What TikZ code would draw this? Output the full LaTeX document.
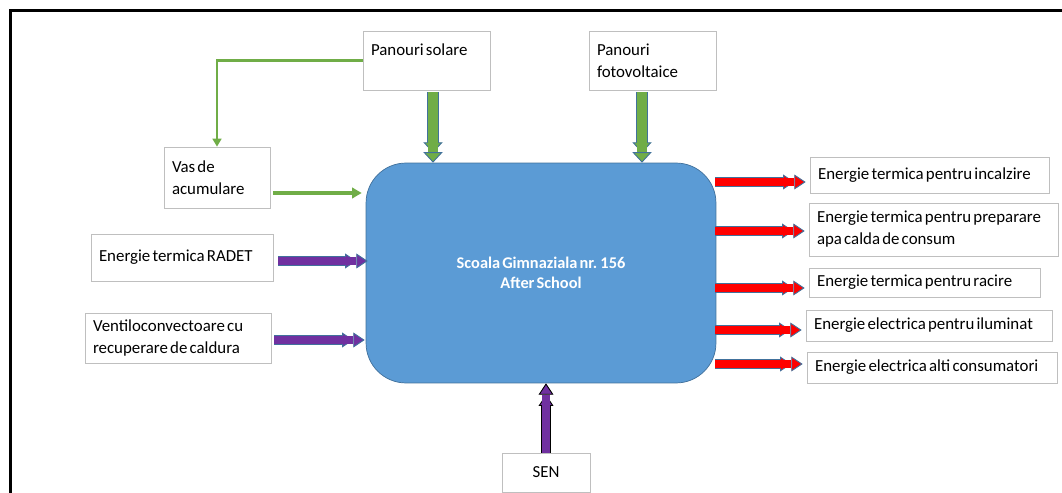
\documentclass[tikz,border=0pt]{standalone}
\usepackage{fontspec}
\setmainfont{Carlito}
\usetikzlibrary{arrows.meta,calc}
\definecolor{mainblue}{HTML}{5B9BD5}
\definecolor{mainedge}{HTML}{41719C}
\definecolor{solargreen}{HTML}{70AD47}
\definecolor{radetpurple}{HTML}{7030A0}
\definecolor{boxgray}{HTML}{BFBFBF}
\definecolor{flowred}{HTML}{FF0000}
\newcommand{\tightspaces}{\spaceskip=0.13em plus 0.1em minus 0.03em\hyphenpenalty=10000}

\begin{document}
\begin{tikzpicture}[x=0.02cm, y=-0.02cm]
        %style
        \tikzset{box/.style = {shape=rectangle, draw=boxgray, fill=white, align=flush left, inner xsep=0.16cm, inner ysep=0pt, font=\fontsize{9.6}{12.5}\selectfont\tightspaces}}
        \tikzset{school/.style = {shape=rectangle, rounded corners=0.8cm, draw=mainedge, fill=mainblue, text=white, align=flush center, minimum width=7cm, minimum height=4.4cm, font=\fontsize{9.3}{11.3}\selectfont\bfseries\tightspaces}}
        \tikzset{greenflow/.style = {preaction={draw=mainedge, line width=6.8pt, shorten >=5.6pt}, draw=solargreen, line width=5.6pt, -{Triangle[length=6pt, width=11pt, fill=solargreen, color=mainedge, line width=0.5pt]}}}
        \tikzset{flow/.style 2 args = {preaction={draw=#2, line width=5.4pt, shorten >=6.4pt}, draw=#1, line width=4.4pt, -{Triangle[length=6.5pt, width=8.5pt, fill=#1, color=#2, line width=0.5pt]}}}
        \tikzset{pipe/.style = {draw=solargreen, line width=1.2pt, -{Triangle[length=4.5pt, width=5pt]}}}
        \tikzset{tank/.style = {draw=solargreen, line width=2pt, -{Triangle[length=5.5pt, width=6pt]}}}

        \useasboundingbox (0,0) rectangle (1062,493);
        \draw[line width=1.7pt] (10.5,493) -- (10.5,10.5) -- (1062,10.5);

        \node[school] (main)  at (541,273)   {Scoala Gimnaziala nr. 156\\After School};
        \node[box, text width=2.22cm, minimum height=1.18cm] (solar) at (426.5,60.5) {Panouri solare\\\mbox{}};
        \node[box, text width=2.22cm, minimum height=1.18cm] (pv)    at (652.5,60.5) {Panouri\\fotovoltaice};
        \node[box, text width=1.8cm, minimum height=1.22cm]  (vas)   at (217,177.5)  {Vas de\\acumulare};
        \node[box, text width=3.32cm, minimum height=0.94cm] (radet) at (182,257.5)  {Energie termica RADET};
        \node[box, text width=3.4cm, minimum height=1cm]     (vent)  at (178,338)    {Ventiloconvectoare cu\\recuperare de caldura};
        \node[box, align=flush center, text width=1.44cm, minimum height=0.78cm] (sen) at (546,472.5) {SEN};
        \node[box, text width=4.46cm, minimum height=0.72cm] (o1) at (929.5,175)   {Energie termica pentru incalzire};
        \node[box, text width=4.66cm, minimum height=1.06cm] (o2) at (933.5,229.5) {Energie termica pentru preparare\\apa calda de consum};
        \node[box, text width=4.3cm, minimum height=0.58cm]  (o3) at (924.5,282.5) {Energie termica pentru racire};
        \node[box, text width=4.6cm, minimum height=0.62cm]  (o4) at (929,325.5)   {Energie electrica pentru iluminat};
        \node[box, text width=4.68cm, minimum height=0.62cm] (o5) at (932,367.5)   {Energie electrica alti consumatori};

        % solar side
        \coordinate (solarout) at ($(solar.south)+(6.5,2)$);
        \coordinate (pvout)    at ($(pv.south)+(-10.5,2)$);
        \draw[greenflow] (solarout) -- (solarout |- main.north);
        \draw[greenflow] (pvout) -- (pvout |- main.north);
        \draw[pipe] (solar.west) -| (vas.north);
        \draw[tank] ($(vas.east)+(3,15.5)$) -- ($(vas.east -| main.west)+(-4,15.5)$);

        % purple inputs
        \draw[flow={radetpurple}{mainedge}] ($(radet.east)+(5,3.5)$) -- ($(radet.east -| main.west)+(2,3.5)$);
        \draw[flow={radetpurple}{mainedge}] ($(vent.east)+(3,2)$) -- ($(vent.east -| main.west)+(-1,2)$);
        \draw[flow={radetpurple}{black}] (sen.north) -- (sen.north |- main.south);

        % outputs
        \foreach \o/\dy in {o1/7, o2/1.5, o3/5.5, o4/4.5, o5/-3.5}
          \draw[flow={flowred}{mainedge}] ($(main.east |- \o.west)+(-1,\dy)$) -- ($(\o.west)+(-4,\dy)$);
\end{tikzpicture}
\end{document}
